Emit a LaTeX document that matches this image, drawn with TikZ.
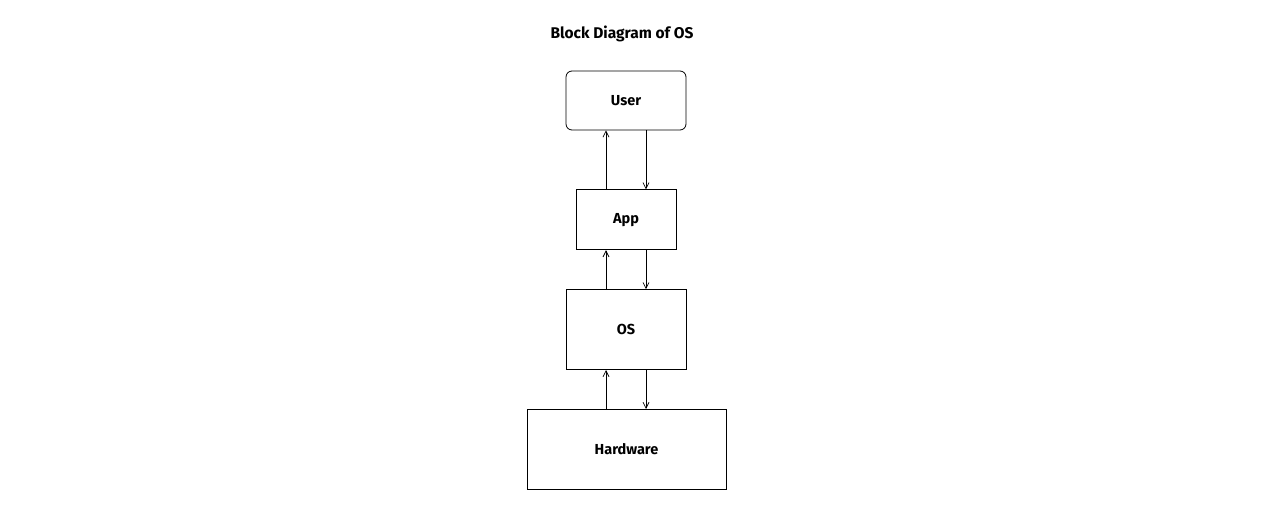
\documentclass[tikz,border=0pt]{standalone}
\usepackage{fontspec}
\setmainfont{Fira Sans}
\usepackage{tikz}
\usetikzlibrary{arrows.meta,positioning}

\begin{document}
\begin{tikzpicture}[
    x=1pt, y=1pt,
    >={Straight Barb[length=6pt,width=6pt]},
    font=\bfseries\fontsize{14.5}{16}\selectfont,
    block/.style={
		rectangle,
		draw=black,
		line width=0.8pt,
		text centered,
		inner sep=0pt,
		fill=white
	},
	link/.style={
		->,
		line width=0.7pt
	}
  ]
    \useasboundingbox (0,0) rectangle (1285,-514);

    % We start by placing the blocks
  \node [block, rounded corners=6pt, minimum width=120pt, minimum height=59pt] (user) at (626,-100.5) {User};

  \node [block, minimum width=100pt, minimum height=60pt, below=59pt of user] (app) {App};

  \node [block, minimum width=120pt, minimum height=80pt, below=39pt of app] (os) {OS};

  \node [block, minimum width=199pt, minimum height=80pt, below=39pt of os, xshift=0.5pt] (hardware) {Hardware};

  \node [font=\bfseries\fontsize{15.5}{17}\selectfont] (title) at (622,-34) {Block Diagram of OS};

 \draw [link] ([xshift=-20pt]app.north) -- ([xshift=-20pt]user.south);
 \draw [link] ([xshift=20pt]user.south) -- ([xshift=20pt]app.north);
 \draw [link] ([xshift=-20pt]os.north) -- ([xshift=-20pt]app.south);
 \draw [link] ([xshift=20pt]app.south) -- ([xshift=20pt]os.north);
 \draw [link] ([xshift=-20.5pt]hardware.north) -- ([xshift=-20pt]os.south);
 \draw [link] ([xshift=20pt]os.south) -- ([xshift=19.5pt]hardware.north);

\end{tikzpicture}
\end{document}
